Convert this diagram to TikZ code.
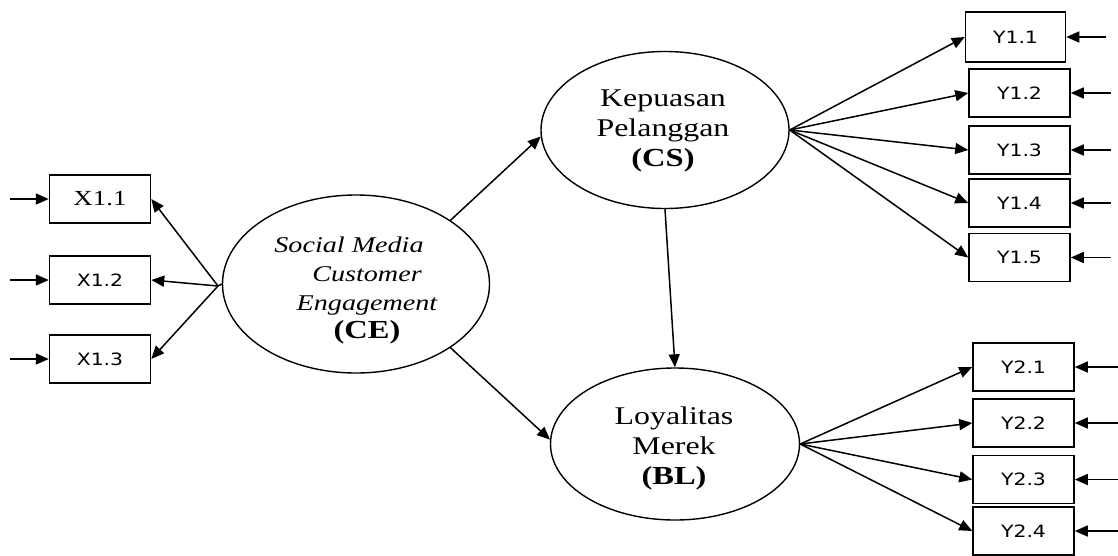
\documentclass[tikz,border=0pt]{standalone}
\usepackage{fontspec}
\setmainfont{Liberation Serif}[FakeStretch=1.25]
\newfontfamily\boxfont{DejaVu Sans}[FakeStretch=1.2]
\usetikzlibrary{arrows.meta,shapes.geometric}
\begin{document}
\begin{tikzpicture}[x=1pt,y=-1pt,
  line width=1.5pt,
  latent/.style={draw,ellipse,inner sep=0pt,line width=1.4pt},
  indic/.style={draw,rectangle,minimum width=101pt,minimum height=48pt,inner sep=0pt,line width=1.5pt,
    font=\boxfont\fontsize{17}{20}\selectfont},
  arr/.style={-{Triangle[length=13pt,width=11pt]}},
  lbl/.style={align=center,inner sep=0pt}
]
\useasboundingbox (0,0) rectangle (1118,555);

% latent variables
\node[latent,minimum width=267pt,minimum height=178pt] (ce) at (356,284) {};
\node[latent,minimum width=248pt,minimum height=157pt] (cs) at (665,130) {};
\node[latent,minimum width=249pt,minimum height=152pt] (bl) at (675,444) {};

\node[lbl,font=\fontsize{22.5}{29}\selectfont\itshape] (cetext) at (367,290)
  {Social Media\hspace*{36pt}\\Customer\\Engagement\\[-1pt]{\upshape\bfseries\fontsize{26}{30}\selectfont (CE)}};
\node[lbl,font=\fontsize{25.5}{30}\selectfont] (cstext) at (663,131)
  {Kepuasan\\Pelanggan\\{\bfseries\fontsize{26}{30}\selectfont (CS)}};
\node[lbl,font=\fontsize{25.5}{30}\selectfont] (bltext) at (674,448)
  {Loyalitas\\Merek\\{\bfseries\fontsize{26}{30}\selectfont (BL)}};

% X indicators
\node[indic,font=\fontsize{21.5}{25}\selectfont] (x11) at (100,199) {X1.1};
\node[indic] (x12) at (100,280) {X1.2};
\node[indic] (x13) at (100,359) {X1.3};

% Y1 indicators
\node[indic,minimum width=100pt,minimum height=50pt] (y11) at (1015.5,37) {Y1.1};
\node[indic] (y12) at (1019.5,93) {Y1.2};
\node[indic] (y13) at (1019.5,150) {Y1.3};
\node[indic] (y14) at (1019.5,203) {Y1.4};
\node[indic] (y15) at (1019.5,257.5) {Y1.5};

% Y2 indicators
\node[indic] (y21) at (1023.5,367) {Y2.1};
\node[indic] (y22) at (1023.5,423) {Y2.2};
\node[indic] (y23) at (1023.5,479.5) {Y2.3};
\node[indic] (y24) at (1023.5,531) {Y2.4};

% CE loading origin
\coordinate (ceo) at (218,286);
\draw (ceo) -- (ce.west);
\draw[arr] (ceo) -- (x11.east);
\draw[arr] (ceo) -- (x12.east);
\draw[arr] (ceo) -- (x13.east);

% error arrows left
\foreach \n in {x11,x12,x13}{
  \coordinate (e\n) at ([xshift=-39pt]\n.west);
  \draw[arr] (e\n) -- (\n.west);
}
% error arrows right
\foreach \n in {y11,y12,y13,y14,y15}{
  \coordinate (e\n) at ([xshift=40pt]\n.east);
  \draw[arr] (e\n) -- (\n.east);
}
\foreach \n in {y21,y22,y23,y24}{
  \coordinate (e\n) at ([xshift=44pt]\n.east);
  \draw[arr] (e\n) -- (\n.east);
}

% structural paths
\draw[arr] (ce.34) -- (cs.183);
\draw[arr] (ce.-34) -- (bl.178);
\draw[arr] (cs.south) -- (bl.north);

% CS loadings
\foreach \n in {y11,y12,y13,y14,y15}{
  \draw[arr] (cs.east) -- (\n.west);
}
% BL loadings
\foreach \n in {y21,y22,y23,y24}{
  \draw[arr] (bl.east) -- (\n.west);
}
\end{tikzpicture}
\end{document}
